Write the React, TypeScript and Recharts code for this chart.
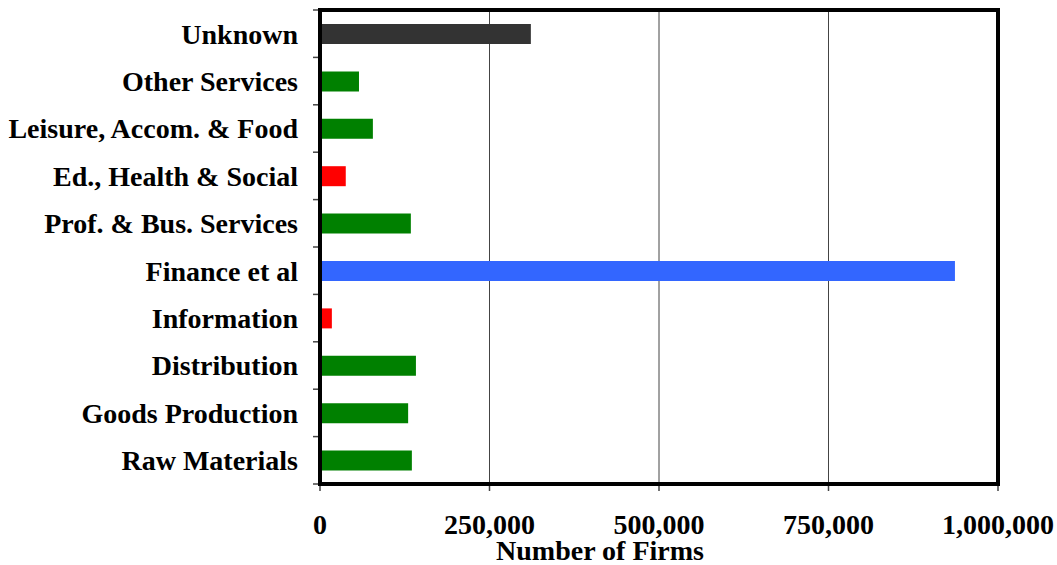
import React from "react";
import { BarChart, Bar, XAxis, YAxis, CartesianGrid, Cell } from "recharts";

const categories = [
  "Unknown",
  "Other Services",
  "Leisure, Accom. & Food",
  "Ed., Health & Social",
  "Prof. & Bus. Services",
  "Finance et al",
  "Information",
  "Distribution",
  "Goods Production",
  "Raw Materials",
];
const firms = [311000, 57500, 78000, 38000, 134000, 936500, 17500, 141500, 130000, 135500];
const barColors = [
  "#333333",
  "#008000",
  "#008000",
  "#FF0000",
  "#008000",
  "#3366FF",
  "#FF0000",
  "#008000",
  "#008000",
  "#008000",
];
const xTicks = [0, 250000, 500000, 750000, 1000000];

const data = categories.map((name, i) => ({ name, firms: firms[i] }));

const W = 1057;
const H = 565;
const MARGIN = { top: 10, right: 59, bottom: 21, left: 0 };
const XAXIS_H = 60;
const YAXIS_W = 320;
const PLOT_X = MARGIN.left + YAXIS_W;
const PLOT_Y = MARGIN.top;
const PLOT_W = W - MARGIN.right - PLOT_X;
const PLOT_H = H - MARGIN.top - MARGIN.bottom - XAXIS_H;
const HALF_BAND = PLOT_H / categories.length / 2;

const FONT = "Liberation Serif";
const FS = 28;
const textStyle = { fontFamily: FONT, fontWeight: 700, fontSize: FS } as const;

const CatTick = (props: any) => {
  const { x, y, payload, index } = props;
  const axisX = x + 22;
  const last = index === categories.length - 1;
  return (
    <g>
      <line x1={axisX - 7} x2={axisX} y1={y - HALF_BAND} y2={y - HALF_BAND} stroke="#444" strokeWidth={1.5} />
      {last && (
        <line x1={axisX - 7} x2={axisX} y1={y + HALF_BAND} y2={y + HALF_BAND} stroke="#444" strokeWidth={1.5} />
      )}
      <text x={x} y={y} dy="0.35em" textAnchor="end" style={textStyle} fill="#000">
        {payload.value}
      </text>
    </g>
  );
};

const XTick = (props: any) => {
  const { x, y, payload } = props;
  return (
    <text x={x} y={y} dy="0.71em" textAnchor="middle" style={textStyle} fill="#000">
      {Number(payload.value).toLocaleString("en-US")}
    </text>
  );
};

const XLabel = (props: any) => {
  const vb = props.viewBox || {};
  const cx = (vb.x || 0) + (vb.width || 0) / 2 - 59;
  return (
    <text x={cx} y={560} textAnchor="middle" style={textStyle} fill="#000">
      Number of Firms
    </text>
  );
};

export default function App() {
  return (
    <div style={{ position: "absolute", left: 0, top: 0, width: W, height: H, background: "#fff" }}>
      <BarChart width={W} height={H} data={data} layout="vertical" margin={MARGIN}>
        <CartesianGrid horizontal={false} stroke="#444" strokeWidth={1} />
        <XAxis
          type="number"
          dataKey="firms"
          domain={[0, 1000000]}
          ticks={xTicks}
          interval={0}
          height={XAXIS_H}
          tickSize={7}
          tickMargin={23}
          tickLine={{ stroke: "#444", strokeWidth: 1.5 }}
          axisLine={false}
          tick={<XTick />}
          label={<XLabel />}
        />
        <YAxis
          type="category"
          dataKey="name"
          width={YAXIS_W}
          interval={0}
          tickSize={0}
          tickMargin={22}
          tickLine={false}
          axisLine={false}
          tick={<CatTick />}
        />
        <Bar dataKey="firms" barSize={20} isAnimationActive={false}>
          {data.map((d, i) => (
            <Cell key={d.name} fill={barColors[i]} />
          ))}
        </Bar>
      </BarChart>
      <svg
        width={W}
        height={H}
        style={{ position: "absolute", left: 0, top: 0, pointerEvents: "none" }}
      >
        <rect x={PLOT_X} y={PLOT_Y} width={PLOT_W} height={PLOT_H} fill="none" stroke="#000" strokeWidth={4} />
      </svg>
    </div>
  );
}
